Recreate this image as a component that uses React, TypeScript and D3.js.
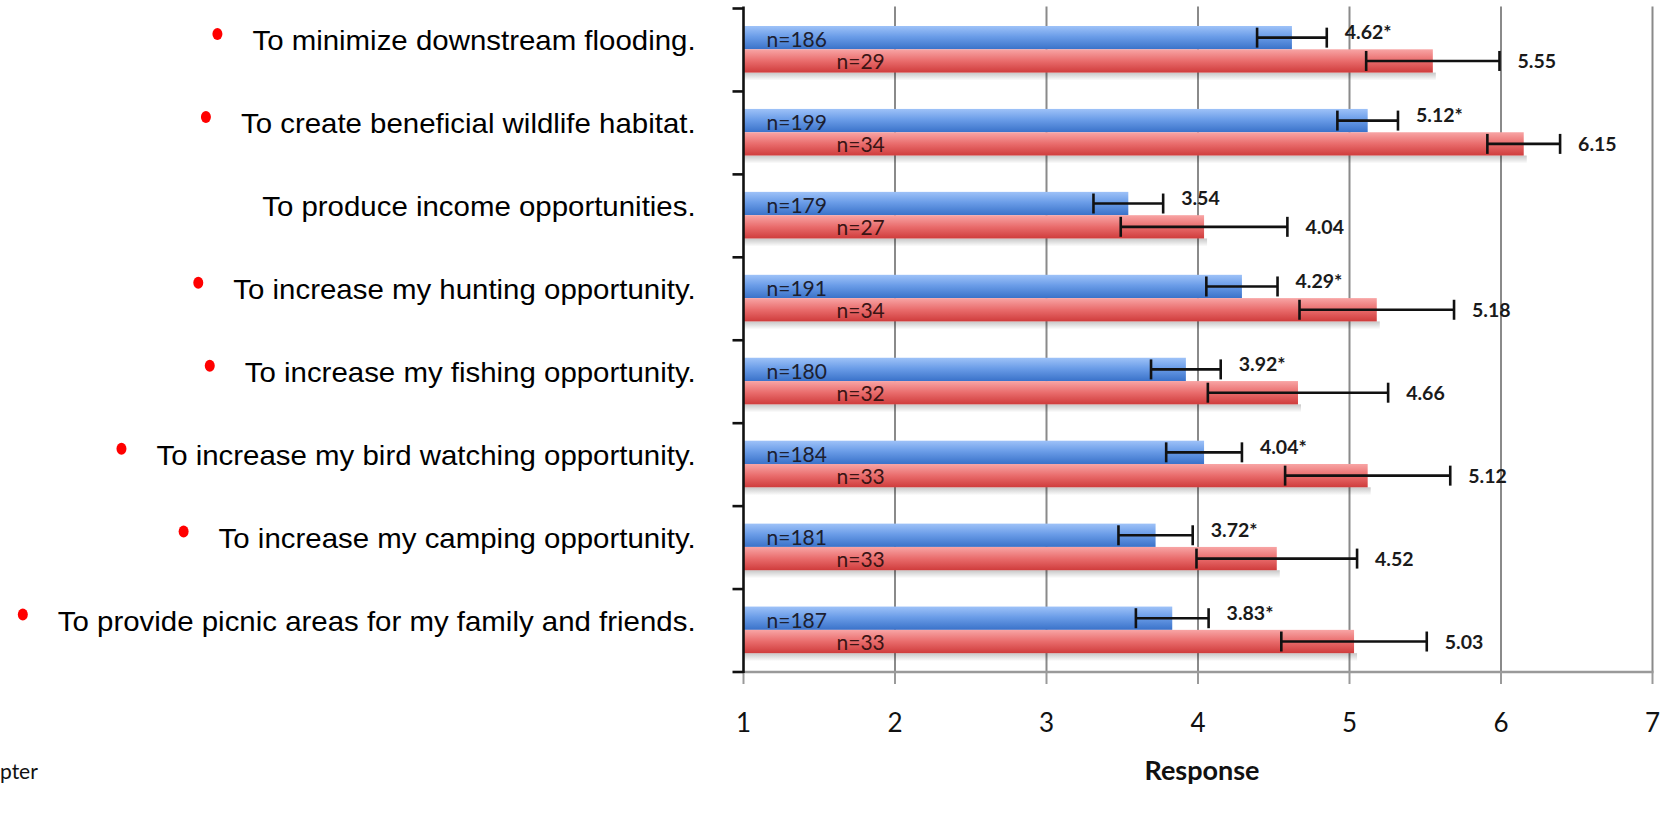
import React, { useEffect, useRef } from "react";
import * as d3 from "d3";

const categories = [
  "To minimize downstream flooding.",
  "To create beneficial wildlife habitat.",
  "To produce income opportunities.",
  "To increase my hunting opportunity.",
  "To increase my fishing opportunity.",
  "To increase my bird watching opportunity.",
  "To increase my camping opportunity.",
  "To provide picnic areas for my family and friends.",
];
const hasBullet = [true, true, false, true, true, true, true, true];

const groupAMean = [4.62, 5.12, 3.54, 4.29, 3.92, 4.04, 3.72, 3.83];
const groupAErr = [0.23, 0.2, 0.23, 0.235, 0.23, 0.25, 0.245, 0.24];
const groupAN = [186, 199, 179, 191, 180, 184, 181, 187];
const groupALabel = ["4.62*", "5.12*", "3.54", "4.29*", "3.92*", "4.04*", "3.72*", "3.83*"];

const groupBMean = [5.55, 6.15, 4.04, 5.18, 4.66, 5.12, 4.52, 5.03];
const groupBErr = [0.44, 0.24, 0.55, 0.51, 0.595, 0.545, 0.53, 0.48];
const groupBN = [29, 34, 27, 34, 32, 33, 33, 33];
const groupBLabel = ["5.55", "6.15", "4.04", "5.18", "4.66", "5.12", "4.52", "5.03"];

const xTicks = [1, 2, 3, 4, 5, 6, 7];
const xTitle = "Response";
const footText = "pter";

const W = 1660;
const H = 836;

export default function App() {
  const ref = useRef<SVGSVGElement | null>(null);

  useEffect(() => {
    const svg = d3.select(ref.current);
    svg.selectAll("*").remove();

    const left = 743.5, right = 1652.5, top = 8.5, bottom = 672;
    const x = d3.scaleLinear().domain([1, 7]).range([left, right]);
    const y = d3.scaleBand<string>().domain(categories).range([top, bottom]).padding(0);
    const bw = y.bandwidth();
    const offA = bw * 0.211;
    const barH = bw * 0.281;
    const offB = offA + barH;

    const defs = svg.append("defs");
    const gA = defs.append("linearGradient").attr("id", "gA").attr("x1", 0).attr("y1", 0).attr("x2", 0).attr("y2", 1);
    gA.append("stop").attr("offset", "0%").attr("stop-color", "#9ec2f8");
    gA.append("stop").attr("offset", "45%").attr("stop-color", "#6b9de8");
    gA.append("stop").attr("offset", "100%").attr("stop-color", "#3a72c9");
    const gB = defs.append("linearGradient").attr("id", "gB").attr("x1", 0).attr("y1", 0).attr("x2", 0).attr("y2", 1);
    gB.append("stop").attr("offset", "0%").attr("stop-color", "#f8a5a5");
    gB.append("stop").attr("offset", "50%").attr("stop-color", "#e96c6c");
    gB.append("stop").attr("offset", "100%").attr("stop-color", "#cf3c3c");
    const gS = defs.append("linearGradient").attr("id", "gS").attr("x1", 0).attr("y1", 0).attr("x2", 0).attr("y2", 1);
    gS.append("stop").attr("offset", "0%").attr("stop-color", "#000").attr("stop-opacity", 0.22);
    gS.append("stop").attr("offset", "100%").attr("stop-color", "#000").attr("stop-opacity", 0);

    svg.append("rect").attr("width", W).attr("height", H).attr("fill", "#fff");

    // gridlines
    svg.append("g").selectAll("line").data(xTicks.slice(1)).join("line")
      .attr("x1", (d) => x(d)).attr("x2", (d) => x(d))
      .attr("y1", top - 2).attr("y2", bottom)
      .attr("stroke", "#8a8a8a").attr("stroke-width", 2);

    // x axis line + ticks
    svg.append("line").attr("x1", left).attr("x2", right + 1).attr("y1", bottom).attr("y2", bottom)
      .attr("stroke", "#9a9a9a").attr("stroke-width", 2.5);
    svg.append("g").selectAll("line").data(xTicks).join("line")
      .attr("x1", (d) => x(d)).attr("x2", (d) => x(d))
      .attr("y1", bottom).attr("y2", bottom + 12)
      .attr("stroke", "#9a9a9a").attr("stroke-width", 2);

    const font = "Lato, 'Open Sans', sans-serif";

    // tick labels
    svg.append("g").selectAll("text").data(xTicks).join("text")
      .attr("x", (d) => x(d)).attr("y", 732)
      .attr("text-anchor", "middle")
      .attr("font-family", font)
      .attr("font-size", 26).attr("fill", "#111")
      .text((d) => String(d));

    svg.append("text").attr("x", 1202).attr("y", 780)
      .attr("text-anchor", "middle").attr("font-family", font)
      .attr("font-weight", "bold").attr("font-size", 27).attr("fill", "#111").text(xTitle);

    svg.append("text").attr("x", 0).attr("y", 779)
      .attr("font-family", font)
      .attr("font-size", 21).attr("fill", "#111").text(footText);

    const rows = categories.map((c, i) => ({ c, i }));
    const bars = svg.append("g");

    // shadows
    bars.selectAll("rect.sh").data(rows).join("rect").attr("class", "sh")
      .attr("x", left).attr("y", (d) => (y(d.c) as number) + offB + barH)
      .attr("width", (d) => x(Math.max(groupBMean[d.i], groupAMean[d.i])) - left + 3)
      .attr("height", 8).attr("fill", "url(#gS)");

    bars.selectAll("rect.a").data(rows).join("rect").attr("class", "a")
      .attr("x", left).attr("y", (d) => (y(d.c) as number) + offA)
      .attr("width", (d) => x(groupAMean[d.i]) - left).attr("height", barH)
      .attr("fill", "url(#gA)");
    bars.selectAll("rect.b").data(rows).join("rect").attr("class", "b")
      .attr("x", left).attr("y", (d) => (y(d.c) as number) + offB)
      .attr("width", (d) => x(groupBMean[d.i]) - left).attr("height", barH)
      .attr("fill", "url(#gB)");

    // error bars
    const drawErr = (mean: number[], err: number[], off: number) => {
      const g = svg.append("g").attr("stroke", "#111").attr("stroke-width", 2.6);
      rows.forEach((d) => {
        const cy = (y(d.c) as number) + off + barH / 2;
        const x0 = x(mean[d.i] - err[d.i]);
        const x1 = x(mean[d.i] + err[d.i]);
        g.append("line").attr("x1", x0).attr("x2", x1).attr("y1", cy).attr("y2", cy);
        g.append("line").attr("x1", x0).attr("x2", x0).attr("y1", cy - 10).attr("y2", cy + 10);
        g.append("line").attr("x1", x1).attr("x2", x1).attr("y1", cy - 10).attr("y2", cy + 10);
      });
    };
    drawErr(groupAMean, groupAErr, offA);
    drawErr(groupBMean, groupBErr, offB);

    // value labels
    svg.append("g").selectAll("text").data(rows).join("text")
      .attr("x", (d) => x(groupAMean[d.i] + groupAErr[d.i]) + 18)
      .attr("y", (d) => (y(d.c) as number) + offA + barH / 2 - 5 + 6.5)
      .attr("font-family", font).attr("font-weight", "bold").attr("font-size", 19.5).attr("fill", "#1a1a1a")
      .text((d) => groupALabel[d.i]);
    svg.append("g").selectAll("text").data(rows).join("text")
      .attr("x", (d) => x(groupBMean[d.i] + groupBErr[d.i]) + 18)
      .attr("y", (d) => (y(d.c) as number) + offB + barH / 2 + 1 + 6.5)
      .attr("font-family", font).attr("font-weight", "bold").attr("font-size", 19.5).attr("fill", "#1a1a1a")
      .text((d) => groupBLabel[d.i]);

    // n labels
    svg.append("g").selectAll("text").data(rows).join("text")
      .attr("x", left + 23)
      .attr("y", (d) => (y(d.c) as number) + offA + barH / 2 + 2.5 + 7)
      .attr("font-family", font).attr("font-size", 21).attr("fill", "#1c2030")
      .text((d) => "n=" + groupAN[d.i]);
    svg.append("g").selectAll("text").data(rows).join("text")
      .attr("x", left + 93)
      .attr("y", (d) => (y(d.c) as number) + offB + barH / 2 + 1 + 7)
      .attr("font-family", font).attr("font-size", 21).attr("fill", "#3a1414")
      .text((d) => "n=" + groupBN[d.i]);

    // y axis
    svg.append("line").attr("x1", left).attr("x2", left).attr("y1", top - 2).attr("y2", bottom + 1)
      .attr("stroke", "#111").attr("stroke-width", 2.6);
    const edges = categories.map((c) => y(c) as number).concat([bottom]);
    svg.append("g").selectAll("line").data(edges).join("line")
      .attr("x1", left - 11).attr("x2", left).attr("y1", (d) => d).attr("y2", (d) => d)
      .attr("stroke", "#111").attr("stroke-width", 2.6);

    // category labels
    const labelRight = 695.6;
    const sx = 1.09;
    const lg = svg.append("g");
    rows.forEach((d) => {
      const cy = (y(d.c) as number) + bw / 2 - 9;
      const g = lg.append("g").attr("transform", `translate(${labelRight},${cy + 9.5}) scale(${sx},1)`);
      const t = g.append("text").attr("x", 0).attr("y", 0).attr("text-anchor", "end")
        .attr("font-family", "'Liberation Sans', Arial, sans-serif").attr("font-size", 27).attr("fill", "#000")
        .text(d.c);
      if (hasBullet[d.i]) {
        const bb = (t.node() as SVGTextElement).getBBox();
        const startX = labelRight + bb.x * sx;
        lg.append("ellipse").attr("cx", startX - 35).attr("cy", cy - 7)
          .attr("rx", 5).attr("ry", 6).attr("fill", "#ff0000");
      }
    });
  }, []);

  return (
    <svg ref={ref} width={W} height={H} style={{ position: "absolute", left: 0, top: 0, display: "block" }} />
  );
}
